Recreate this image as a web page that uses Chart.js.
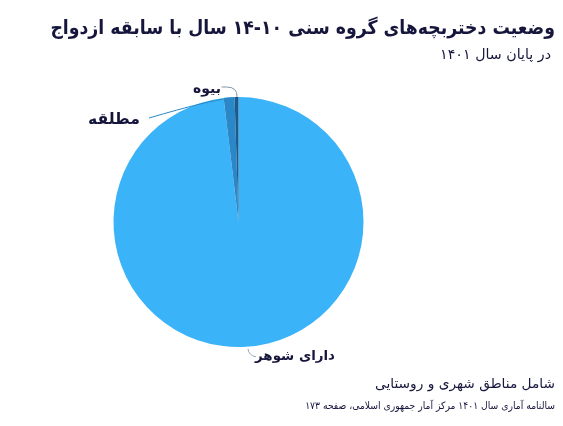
<!DOCTYPE html>
<html><head><meta charset="utf-8">
<script src="https://cdn.jsdelivr.net/npm/chart.js@4.4.1/dist/chart.umd.min.js"></script>
<style>
html,body{margin:0;padding:0;background:#fff;}
#wrap{position:relative;width:563px;height:426px;}
</style></head>
<body><div id="wrap"><canvas id="c" width="563" height="426"></canvas></div>
<script>
const categories = ["دارای شوهر", "مطلقه", "بیوه"];
const shares = [98.1, 1.4, 0.5];
const sliceColors = ["#3bb3f9", "#2a88c8", "#1d5a8c"];
const titleText = "وضعیت دختربچه‌های گروه سنی ۱۰-۱۴ سال با سابقه ازدواج";
const subtitleText = "در پایان سال ۱۴۰۱";
const noteText = "شامل مناطق شهری و روستایی";
const sourceText = "سالنامه آماری سال ۱۴۰۱ مرکز آمار جمهوری اسلامی، صفحه ۱۷۳";

const navy = "#16163d";
const FONT = "'DejaVu Sans', sans-serif";
const FONT_C = "'DejaVu Sans Condensed', 'DejaVu Sans', sans-serif";

function fitText(ctx, text, weight, targetW, maxSize, x, y, fam) {
  fam = fam || FONT;
  let size = maxSize;
  ctx.font = weight + " " + size + "px " + fam;
  const w = ctx.measureText(text).width;
  size = Math.min(maxSize, size * targetW / w);
  ctx.font = weight + " " + size.toFixed(2) + "px " + fam;
  ctx.fillText(text, x, y);
}

const textPlugin = {
  id: 'texts',
  afterDraw(chart) {
    const ctx = chart.ctx;
    ctx.save();
    ctx.direction = 'rtl';
    ctx.textAlign = 'right';
    ctx.textBaseline = 'middle';
    ctx.fillStyle = navy;
    fitText(ctx, titleText, "bold", 505, 22, 555, 29, FONT_C);
    fitText(ctx, subtitleText, "500", 111, 15, 551, 55);
    fitText(ctx, noteText, "500", 180, 16, 555, 384);
    fitText(ctx, sourceText, "500", 250, 12, 555, 406, FONT_C);

    const meta = chart.getDatasetMeta(0);
    const pts = meta.data.map(a => {
      const p = a.getProps(['x','y','startAngle','endAngle','outerRadius'], true);
      const mid = (p.startAngle + p.endAngle) / 2;
      return {x: p.x + Math.cos(mid) * p.outerRadius, y: p.y + Math.sin(mid) * p.outerRadius};
    });
    ctx.lineWidth = 1;
    // دارای شوهر
    const pb = pts[0];
    ctx.strokeStyle = "#9aa8b8";
    ctx.beginPath();
    ctx.moveTo(pb.x + 2, pb.y + 2);
    ctx.quadraticCurveTo(pb.x + 3, pb.y + 9, pb.x + 10, pb.y + 10);
    ctx.stroke();
    // مطلقه
    const pm = pts[1];
    ctx.strokeStyle = sliceColors[1];
    ctx.beginPath();
    ctx.moveTo(pm.x, pm.y + 1);
    ctx.quadraticCurveTo(pm.x - 20, pm.y + 3, 149, 118);
    ctx.stroke();
    // بیوه
    const pw = pts[2];
    ctx.strokeStyle = "#7f95ab";
    ctx.beginPath();
    ctx.moveTo(pw.x + 0.5, pw.y);
    ctx.quadraticCurveTo(pw.x + 1, pw.y - 10, pw.x - 10, pw.y - 10);
    ctx.lineTo(pw.x - 15, pw.y - 10);
    ctx.stroke();

    ctx.fillStyle = navy;
    fitText(ctx, categories[0], "bold", 80, 16, 335, 357);
    fitText(ctx, categories[1], "bold", 52, 16, 140, 120);
    fitText(ctx, categories[2], "bold", 28, 16, 221, 89);
    ctx.restore();
  }
};

new Chart(document.getElementById('c'), {
  type: 'pie',
  data: {
    labels: categories,
    datasets: [{
      data: shares,
      backgroundColor: sliceColors,
      borderWidth: 0
    }]
  },
  options: {
    responsive: false,
    animation: false,
    layout: { padding: { top: 97, bottom: 79, left: 113, right: 199 } },
    plugins: { legend: { display: false }, tooltip: { enabled: false }, title: { display: false } }
  },
  plugins: [textPlugin]
});
</script>
</body></html>
